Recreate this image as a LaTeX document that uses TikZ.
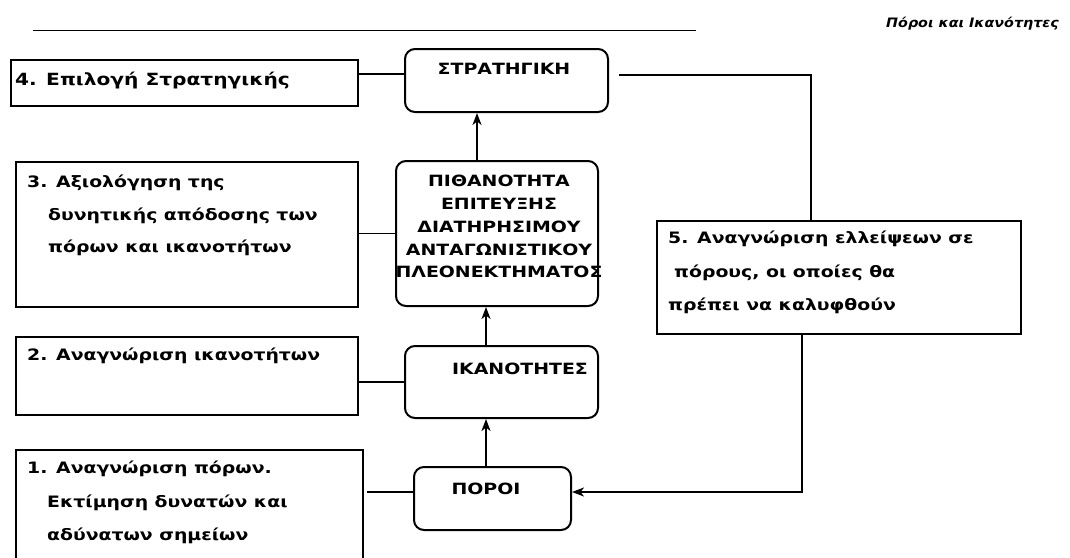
\documentclass[tikz,border=0pt]{standalone}
\usepackage{fontspec}
\usetikzlibrary{arrows.meta}
\newfontfamily\bodyf[FakeStretch=1.2]{DejaVu Sans}
\newfontfamily\titlef[FakeStretch=1.22]{DejaVu Sans}
\newfontfamily\headf[FakeStretch=1.1]{DejaVu Sans}
\tikzset{
  sqbox/.style={draw, line width=2pt, anchor=north west, inner sep=0pt},
  rbox/.style={draw, line width=2pt, rounded corners=10pt, anchor=north west, inner sep=0pt},
  bodytxt/.style={anchor=north west, inner sep=0pt, align=left,
     font=\bodyf\bfseries\fontsize{15.7}{33.5}\selectfont},
  titletxt/.style={anchor=base, inner sep=0pt,
     font=\titlef\bfseries\fontsize{15.5}{22.75}\selectfont},
  conn/.style={line width=1.8pt},
  arr/.style={line width=1.8pt, -{Stealth[length=12pt,width=9pt,inset=3.5pt]}}
}
\newcommand{\fs}{\rule{0pt}{13pt}}
\begin{document}
\begin{tikzpicture}[x=1pt,y=-1pt]
\useasboundingbox (0,0) rectangle (1070,557);
\clip (0,0) rectangle (1070,557);
\fill[white] (0,0) rectangle (1070,557);
% header
\draw[line width=1pt] (33,30) -- (696,30);
\node[anchor=base west, inner sep=0pt, font=\headf\bfseries\itshape\fontsize{13}{15}\selectfont] (head) at (886,27) {Πόροι και Ικανότητες};
% left boxes
\node[sqbox, minimum width=347pt, minimum height=46pt] (b4) at (10,59) {};
\node[bodytxt, font=\bodyf\bfseries\fontsize{16.8}{20}\selectfont] (b4t) at (15,72) {\fs 4. Επιλογή Στρατηγικής};
\node[sqbox, minimum width=342pt, minimum height=145pt] (b3) at (15,161) {};
\node[bodytxt, font=\bodyf\bfseries\fontsize{15.7}{32.5}\selectfont] (b3t) at (27,174.5) {\fs 3. Αξιολόγηση της\\ \hspace*{21pt}δυνητικής απόδοσης των\\ \hspace*{21pt}πόρων και ικανοτήτων};
\node[sqbox, minimum width=342pt, minimum height=78pt] (b2) at (15,336) {};
\node[bodytxt] (b2t) at (27,347.5) {\fs 2. Αναγνώριση ικανοτήτων};
\node[sqbox, minimum width=347pt, minimum height=130pt] (b1) at (15,449) {};
\node[bodytxt] (b1t) at (27,460.5) {\fs 1. Αναγνώριση πόρων.\\ \hspace*{20pt}Εκτίμηση δυνατών και\\ \hspace*{20pt}αδύνατων σημείων};
% center boxes
\node[rbox, minimum width=203pt, minimum height=63pt] (strat) at (404,48) {};
\node[titletxt] (stratt) at (504,74.5) {ΣΤΡΑΤΗΓΙΚΗ};
\node[rbox, minimum width=202pt, minimum height=145pt] (pith) at (395,160) {};
\node[titletxt, anchor=north, align=center] (pitht) at (499,173.6) {\fs ΠΙΘΑΝΟΤΗΤΑ\\ ΕΠΙΤΕΥΞΗΣ\\ ΔΙΑΤΗΡΗΣΙΜΟΥ\\ ΑΝΤΑΓΩΝΙΣΤΙΚΟΥ\\ ΠΛΕΟΝΕΚΤΗΜΑΤΟΣ};
\node[rbox, minimum width=193pt, minimum height=72pt] (ikan) at (404,345) {};
\node[titletxt] (ikant) at (520,374.6) {ΙΚΑΝΟΤΗΤΕΣ};
\node[rbox, minimum width=157pt, minimum height=63pt] (poroi) at (413,466) {};
\node[titletxt] (poroit) at (486,494.8) {ΠΟΡΟΙ};
% right box
\node[sqbox, minimum width=364pt, minimum height=113pt] (b5) at (656,220) {};
\node[bodytxt] (b5t) at (668,230.5) {\fs 5. Αναγνώριση ελλείψεων σε\\ \hspace*{6pt}πόρους, οι οποίες θα\\ πρέπει να καλυφθούν};
% helper coordinates
\coordinate (y4) at (0,74);
\coordinate (y1) at (0,492);
\coordinate (xa) at (486,0);
\coordinate (xb) at (477,0);
\coordinate (c1) at (811,75);
\coordinate (c2) at (802,492);
% connectors
\draw[conn] (b4.east |- y4) -- (strat.west |- y4);
\draw[conn] (b3.east |- pith.west) -- (pith.west);
\draw[conn] (b2.east |- ikan.west) -- (ikan.west);
\draw[conn, shorten <=3pt] (b1.east |- y1) -- (poroi.west |- y1);
\draw[arr] (poroi.north -| xa) -- (ikan.south -| xa);
\draw[arr] (ikan.north -| xa) -- (pith.south -| xa);
\draw[arr] (pith.north -| xb) -- (strat.south -| xb);
\draw[conn, shorten <=10pt] (strat.east |- c1) -- (c1) -- (b5.north -| c1);
\draw[arr] (b5.south -| c2) -- (c2) -- (poroi.east |- c2);
\end{tikzpicture}
\end{document}
